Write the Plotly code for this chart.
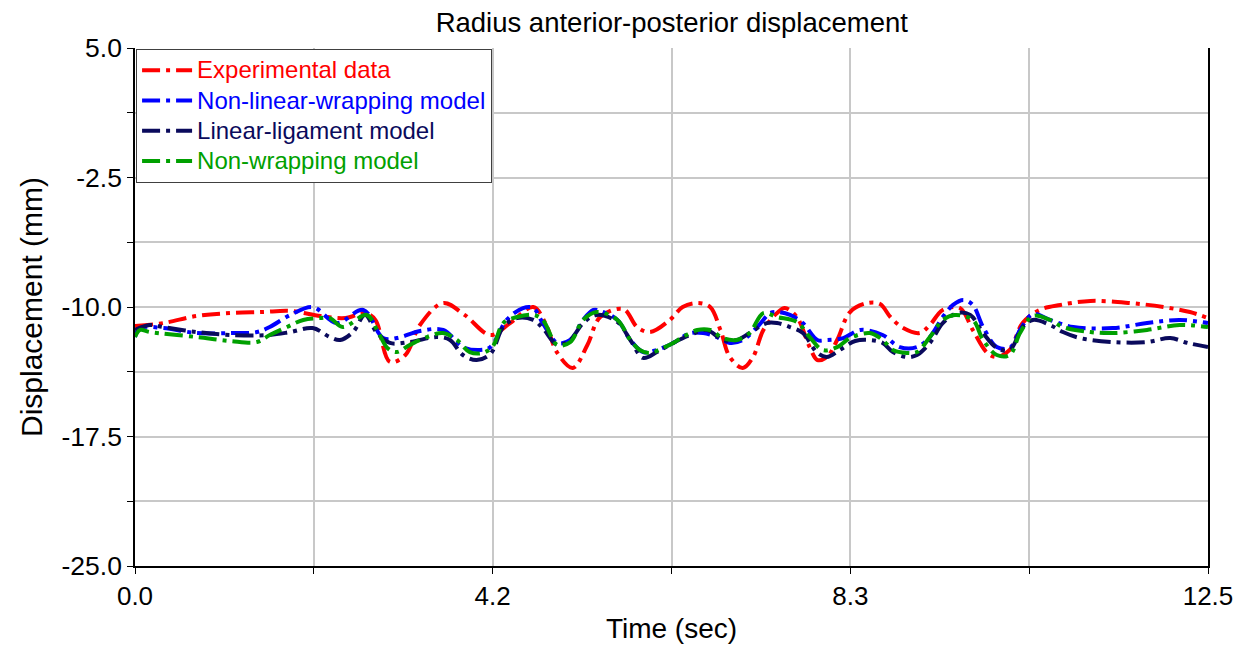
import plotly.graph_objects as go

# ---------------- data ----------------
exp_t = [0, 0.33, 0.72, 1.11, 1.49, 1.81, 2.16, 2.45, 2.68, 2.80, 2.97, 3.15, 3.32, 3.59, 3.84,
         4.14, 4.37, 4.64, 4.78, 4.92, 5.10, 5.27, 5.42, 5.69, 5.85, 6.00, 6.23, 6.38, 6.55, 6.70,
         6.82, 6.93, 7.08, 7.20, 7.32, 7.48, 7.57, 7.71, 7.86, 7.95, 8.06, 8.18, 8.33, 8.53, 8.68,
         8.80, 8.95, 9.14, 9.26, 9.41, 9.61, 9.76, 9.93, 10.04, 10.19, 10.34, 10.54, 10.78, 11.13,
         11.59, 11.98, 12.29, 12.5]
exp_v = [-11.10, -10.93, -10.52, -10.35, -10.29, -10.23, -10.52, -10.64, -10.35, -10.75, -13.18,
         -12.78, -11.04, -9.77, -10.46, -11.62, -10.93, -10.00, -10.93, -12.66, -13.53, -12.20,
         -10.58, -10.12, -11.16, -11.45, -10.75, -10.00, -9.77, -10.00, -11.33, -12.90, -13.53,
         -12.90, -11.33, -10.35, -10.06, -10.58, -12.32, -13.07, -12.90, -11.91, -10.29, -9.77,
         -9.83, -10.58, -11.22, -11.51, -11.04, -10.17, -10.06, -11.33, -12.66, -12.90, -12.49,
         -10.93, -10.17, -9.88, -9.65, -9.77, -10.00, -10.29, -10.64]

nlw_t = [0, 0.06, 0.33, 0.72, 1.11, 1.42, 1.57, 1.81, 2.07, 2.35, 2.66, 2.89, 3.05, 3.32, 3.59,
         3.82, 4.02, 4.14, 4.33, 4.52, 4.64, 4.75, 4.92, 5.07, 5.22, 5.34, 5.42, 5.62, 5.77, 5.92,
         6.08, 6.27, 6.47, 6.62, 6.78, 6.93, 7.08, 7.25, 7.40, 7.48, 7.63, 7.78, 7.95, 8.06, 8.25,
         8.45, 8.71, 8.91, 9.11, 9.26, 9.41, 9.53, 9.65, 9.76, 9.88, 10.04, 10.19, 10.31, 10.46,
         10.66, 10.93, 11.39, 11.79, 12.17, 12.5]
nlw_v = [-11.74, -11.22, -11.22, -11.51, -11.51, -11.45, -11.16, -10.46, -10.00, -10.93, -10.17,
         -11.80, -11.80, -11.39, -11.33, -12.32, -12.49, -12.32, -10.75, -10.06, -10.06, -10.93,
         -12.08, -11.91, -10.75, -10.17, -10.23, -10.75, -11.91, -12.61, -12.49, -12.08, -11.51,
         -11.51, -11.74, -12.08, -11.91, -11.16, -10.35, -10.29, -10.46, -10.93, -11.91, -11.91,
         -11.80, -11.33, -11.62, -12.32, -12.32, -11.74, -10.58, -9.88, -9.59, -9.88, -11.16,
         -12.32, -12.37, -11.33, -10.41, -10.75, -11.16, -11.22, -10.93, -10.75, -10.93]

lin_t = [0, 0.17, 0.33, 0.72, 1.11, 1.57, 1.81, 2.07, 2.27, 2.39, 2.54, 2.68, 2.82, 2.97, 3.20,
         3.52, 3.67, 3.82, 3.98, 4.14, 4.29, 4.45, 4.64, 4.75, 4.92, 5.07, 5.22, 5.38, 5.62, 5.77,
         5.92, 6.08, 6.27, 6.47, 6.66, 6.85, 7.01, 7.16, 7.36, 7.48, 7.63, 7.78, 7.95, 8.06, 8.21,
         8.39, 8.56, 8.71, 8.83, 8.99, 9.11, 9.26, 9.41, 9.58, 9.73, 9.88, 10.04, 10.19, 10.34,
         10.46, 10.66, 10.81, 11.01, 11.39, 11.79, 12.06, 12.26, 12.5]
lin_v = [-11.33, -11.04, -11.16, -11.45, -11.62, -11.62, -11.45, -11.22, -11.74, -11.91, -11.45,
         -10.46, -11.51, -12.08, -12.03, -11.74, -11.91, -12.78, -13.07, -12.72, -11.16, -10.64,
         -10.75, -11.22, -12.20, -11.91, -10.93, -10.46, -10.87, -11.91, -12.95, -12.61, -12.08,
         -11.62, -11.33, -11.91, -11.91, -11.51, -10.93, -10.93, -11.16, -11.51, -12.66, -12.90,
         -12.49, -11.97, -11.91, -12.08, -12.61, -12.90, -12.78, -12.08, -10.93, -10.35, -10.46,
         -11.51, -12.37, -12.49, -11.16, -10.75, -11.04, -11.45, -11.80, -12.03, -12.03, -11.80,
         -12.08, -12.32]

nw_t = [0, 0.06, 0.17, 0.72, 1.11, 1.42, 1.57, 1.77, 1.96, 2.16, 2.27, 2.42, 2.70, 2.82, 2.94,
        3.05, 3.20, 3.40, 3.59, 3.75, 3.90, 4.05, 4.17, 4.29, 4.45, 4.64, 4.75, 4.92, 5.07, 5.22,
        5.38, 5.62, 5.77, 5.88, 6.00, 6.15, 6.27, 6.38, 6.55, 6.70, 6.85, 7.01, 7.16, 7.32, 7.48,
        7.71, 7.86, 8.01, 8.18, 8.33, 8.56, 8.71, 8.83, 8.99, 9.11, 9.26, 9.41, 9.55, 9.76, 9.88,
        10.04, 10.19, 10.31, 10.46, 10.66, 10.81, 11.13, 11.39, 11.79, 12.17, 12.5]
nw_v = [-11.74, -11.33, -11.45, -11.74, -11.97, -12.03, -11.62, -11.16, -10.75, -10.64, -10.64,
        -11.16, -10.46, -11.33, -12.37, -12.61, -12.20, -11.74, -11.51, -11.91, -12.61, -12.66,
        -12.26, -10.93, -10.58, -10.46, -10.75, -12.20, -12.03, -10.75, -10.29, -10.75, -11.91,
        -12.49, -12.66, -12.37, -12.08, -11.74, -11.33, -11.33, -11.80, -11.91, -11.51, -10.35,
        -10.58, -10.87, -11.74, -12.49, -12.32, -11.80, -11.51, -11.91, -12.49, -12.66, -12.61,
        -11.74, -10.75, -10.46, -10.75, -11.91, -12.78, -12.78, -11.51, -10.52, -10.75, -11.16,
        -11.45, -11.51, -11.33, -11.04, -11.16]

series_names = ["Experimental data", "Non-linear-wrapping model",
                "Linear-ligament model", "Non-wrapping model"]
series_colors = ["#ff0000", "#0000ff", "#0a0a5c", "#00a000"]

x_tick_vals = [0, 2.0833, 4.1667, 6.25, 8.3333, 10.4167, 12.5]
x_tick_text = ["0.0", "", "4.2", "", "8.3", "", "12.5"]
y_tick_vals = [5, 1.25, -2.5, -6.25, -10, -13.75, -17.5, -21.25, -25]
y_tick_text = ["5.0", "", "-2.5", "", "-10.0", "", "-17.5", "", "-25.0"]

# ---------------- figure ----------------
FONT = "Arial, Liberation Sans, sans-serif"
fig = go.Figure()
for t, v, name, col in zip([exp_t, nlw_t, lin_t, nw_t], [exp_v, nlw_v, lin_v, nw_v],
                           series_names, series_colors):
    fig.add_trace(go.Scatter(
        x=t, y=v, mode="lines",
        name=f'<span style="color:{col};font-size:24px">{name}</span>',
        line=dict(color=col, width=4, dash="18px,6px,4px,6px", shape="spline", smoothing=1),
    ))

fig.update_layout(
    width=1251, height=654,
    margin=dict(l=135, r=43, t=48, b=88),
    paper_bgcolor="white", plot_bgcolor="white",
    font=dict(family=FONT, color="black", size=27),
    title=dict(text="Radius anterior-posterior displacement", x=0.537, xanchor="center",
               y=1 - 22 / 654, yanchor="middle", yref="container",
               font=dict(size=27.5, family=FONT, color="black")),
    showlegend=True,
    legend=dict(x=0.001, y=0.998, xanchor="left", yanchor="top",
                bgcolor="white", bordercolor="#404040", borderwidth=1,
                font=dict(size=21, family=FONT), itemwidth=50,
                tracegroupgap=0),
)
fig.update_xaxes(range=[0, 12.5], tickvals=x_tick_vals, ticktext=x_tick_text,
                 showgrid=True, gridcolor="#c8c8c8", gridwidth=2,
                 showline=True, linecolor="black", linewidth=1.5, mirror=False,
                 ticks="outside", ticklen=6, tickcolor="black", tickwidth=1,
                 zeroline=False, tickfont=dict(size=26),
                 title=dict(text="Time (sec)", font=dict(size=28), standoff=8))
fig.update_yaxes(range=[-25, 5], tickvals=y_tick_vals, ticktext=y_tick_text,
                 showgrid=True, gridcolor="#c8c8c8", gridwidth=2,
                 showline=True, linecolor="black", linewidth=1.5, mirror=True,
                 ticks="outside", ticklen=6, tickcolor="black", tickwidth=1,
                 zeroline=False, tickfont=dict(size=26.5),
                 title=dict(text="Displacement (mm)", font=dict(size=30), standoff=10))

fig.write_html("out.html")
